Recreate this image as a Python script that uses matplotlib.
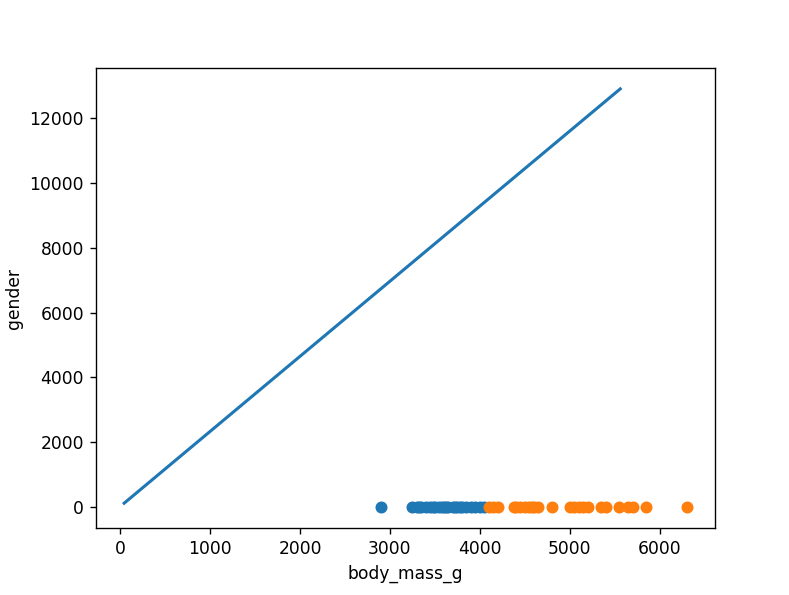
import matplotlib
matplotlib.use("Agg")
import matplotlib.pyplot as plt

# masses de los dos grupos (lectura aproximada del grafico)
mass_group0 = [2900, 3250, 3300, 3325, 3350, 3400, 3450, 3475, 3500, 3550, 3575, 3600,
               3625, 3650, 3700, 3725, 3750, 3775, 3800, 3850, 3900, 3950, 4000, 4050]
mass_group1 = [4100, 4150, 4200, 4375, 4400, 4450, 4500, 4550, 4575, 4600, 4650, 4800,
               5000, 5050, 5100, 5150, 5200, 5350, 5400, 5550, 5650, 5700, 5850, 6300]
gender_group0 = [0] * len(mass_group0)
gender_group1 = [0] * len(mass_group1)

# linea ajustada
line_x = [45, 5560]
line_y = [120, 12900]

fig = plt.figure(figsize=(6.4, 4.826), dpi=123.3)
plt.subplots_adjust(left=0.1217, right=0.906, top=0.8857, bottom=0.1126)
plt.scatter(mass_group0, gender_group0)
plt.scatter(mass_group1, gender_group1)
plt.plot(line_x, line_y, linewidth=1.8)
plt.xlabel('body_mass_g')
plt.ylabel('gender')
plt.savefig('out.png', dpi=123.3)
